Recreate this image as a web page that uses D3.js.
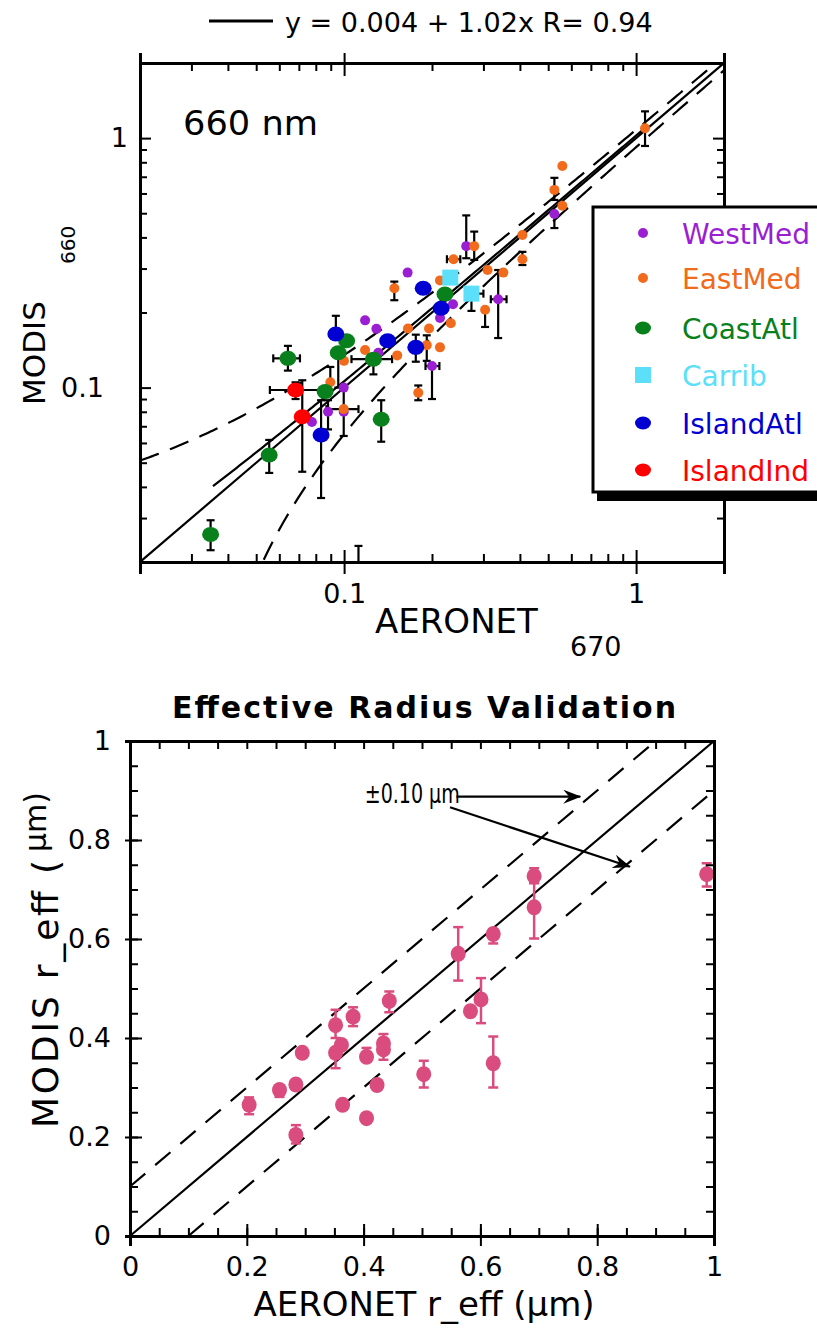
<!DOCTYPE html>
<html>
<head>
<meta charset="utf-8">
<script src="https://cdn.jsdelivr.net/npm/d3@7"></script>
<style>
  body { margin: 0; background: #fff; }
  svg { display: block; }
  text { font-family: "DejaVu Sans", sans-serif; fill: #000; }
</style>
</head>
<body>
<svg id="chart" width="817" height="1328"></svg>
<script>
// ── Top panel: AOD 660 nm, points as [x, y, yLo, yHi, xLo, xHi] ─────────────
const westMed = [
  [0.525, 0.496, 0.436, null], [0.262, 0.369, 0.33, 0.49], [0.165, 0.289],
  [0.337, 0.226, 0.158, 0.296, 0.318, 0.36], [0.236, 0.216], [0.213, 0.190],
  [0.118, 0.186], [0.129, 0.172], [0.131, 0.138], [0.200, 0.122, 0.090, null, 0.19, 0.212],
  [0.0997, 0.100], [0.0881, 0.080, 0.068, 0.089], [0.0997, 0.080], [0.0776, 0.0728]
];
const eastMed = [
  [1.073, 1.095, 0.93, 1.28], [0.559, 0.773], [0.525, 0.620, 0.565, 0.693], [0.559, 0.536],
  [0.408, 0.409], [0.408, 0.327, 0.31, 0.35], [0.351, 0.289], [0.310, 0.296],
  [0.279, 0.369, 0.325, 0.422], [0.237, 0.327, null, null, 0.225, 0.25],
  [0.1486, 0.250, 0.224, 0.266], [0.213, 0.269], [0.304, 0.205, 0.175, null],
  [0.232, 0.181], [0.1655, 0.1725], [0.1954, 0.1725], [0.1919, 0.148, 0.128, 0.162],
  [0.213, 0.145], [0.118, 0.1415], [0.152, 0.1346], [0.0999, 0.128],
  [0.0897, 0.105, null, 0.121], [0.1795, 0.0954, 0.089, 0.102],
  [0.0997, 0.082, 0.064, 0.1, 0.087, 0.112], [0.112, 0.016, null, 0.0232]
];
const coastAtl = [
  [0.2215, 0.237], [0.102, 0.154], [0.0955, 0.138, 0.1, null],
  [0.126, 0.130, 0.113, null, 0.106, 0.146], [0.0861, 0.0964],
  [0.0642, 0.131, 0.117, 0.147, 0.0572, 0.0706], [0.134, 0.0747, 0.0607, 0.089],
  [0.0554, 0.0537, 0.0455, 0.0617], [0.0349, 0.0258, 0.0223, 0.0294]
];
const carrib = [[0.231, 0.276], [0.273, 0.238, 0.203, null, null, 0.3]];
const islandAtl = [
  [0.1866, 0.250], [0.215, 0.208], [0.0937, 0.164, null, 0.194], [0.141, 0.154],
  [0.176, 0.145, 0.127, 0.163], [0.0834, 0.0646, 0.0361, 0.089]
];
const islandInd = [
  [0.0682, 0.0978, 0.09, 0.105, 0.0557, 0.0848], [0.0719, 0.0764, 0.046, 0.107]
];

const groups = [
  { name: 'WestMed',   color: '#9a1fd3', shape: 'dot',    pts: westMed },
  { name: 'EastMed',   color: '#f26a1b', shape: 'dot',    pts: eastMed },
  { name: 'CoastAtl',  color: '#08801c', shape: 'big',    pts: coastAtl },
  { name: 'Carrib',    color: '#5ce0fa', shape: 'square', pts: carrib },
  { name: 'IslandAtl', color: '#0000d2', shape: 'big',    pts: islandAtl },
  { name: 'IslandInd', color: '#ff0000', shape: 'big',    pts: islandInd }
];
const drawOrder = ['WestMed', 'EastMed', 'Carrib', 'CoastAtl', 'IslandAtl', 'IslandInd'];

const fitA = 0.004, fitB = 1.02, fitR = 0.94;   // regression
const envA = 0.03,  envB = 0.05;                // expected error ±(0.03 + 0.05τ)
const aodMajor = [0.1, 1];
const aodMinor = [0.03, 0.04, 0.05, 0.06, 0.07, 0.08, 0.09, 0.2, 0.3, 0.4, 0.5, 0.6, 0.7, 0.8, 0.9];

// ── Bottom panel: effective radius, [x, y, yLo, yHi] ───────────────────────
const reffPts = [
  [0.204, 0.265, 0.246, 0.28], [0.256, 0.295, 0.281, null], [0.284, 0.306], [0.295, 0.370],
  [0.284, 0.204, 0.187, 0.224], [0.352, 0.426, 0.40, 0.457], [0.362, 0.386],
  [0.352, 0.370, 0.339, null], [0.382, 0.443, 0.424, 0.462], [0.364, 0.265],
  [0.405, 0.362, null, 0.380], [0.405, 0.238], [0.434, 0.389, 0.356, 0.408], [0.434, 0.377],
  [0.423, 0.305], [0.444, 0.475, 0.452, 0.494], [0.503, 0.327, 0.300, 0.354],
  [0.562, 0.570, 0.516, 0.624], [0.583, 0.454], [0.601, 0.478, 0.430, 0.521],
  [0.622, 0.610, 0.591, 0.620], [0.622, 0.349, 0.300, 0.403],
  [0.692, 0.727, 0.713, 0.743], [0.692, 0.664, 0.601, 0.713], [0.9875, 0.731, 0.706, 0.753]
];
const reffBand = 0.10;
const reffMajor = [0, 0.2, 0.4, 0.6, 0.8, 1];
const reffMinor = d3.range(0, 1.001, 0.05).map(v => +v.toFixed(2));
const pink = '#d94c7d';

const svg = d3.select('#chart');

// ═════════════════════════ TOP PANEL ═════════════════════════
const x1 = d3.scaleLog().domain([0.02, 2]).range([140, 724]);
const y1 = d3.scaleLog().domain([0.02, 2]).range([562, 63]);

svg.append('clipPath').attr('id', 'clip1').append('rect')
  .attr('x', 140).attr('y', 63).attr('width', 584).attr('height', 499);

const plot1 = svg.append('g').attr('clip-path', 'url(#clip1)');
const logLine = d3.line().x(d => x1(d[0])).y(d => y1(d[1]));
const xsAll = d3.range(0, 201).map(i => 0.02 * Math.pow(100, i / 200));

// 1:1 line
plot1.append('path').attr('d', logLine([[0.02, 0.02], [2, 2]]))
  .attr('fill', 'none').attr('stroke', '#000').attr('stroke-width', 2.2);
// regression over the data range
const inRange = groups.flatMap(g => g.pts.filter(p => p[1] >= 0.02).map(p => p[0]));
const xMin = d3.min(inRange), xMax = d3.max(inRange);
plot1.append('path')
  .attr('d', logLine(xsAll.filter(v => v >= xMin && v <= xMax).map(v => [v, fitA + fitB * v])))
  .attr('fill', 'none').attr('stroke', '#000').attr('stroke-width', 2.2);
// expected error envelope
const upper = xsAll.map(v => [v, v + envA + envB * v]);
const lower = xsAll.map(v => [v, v - envA - envB * v]).filter(d => d[1] > 0.015);
[upper, lower].forEach(l => plot1.append('path').attr('d', logLine(l))
  .attr('fill', 'none').attr('stroke', '#000').attr('stroke-width', 2.2)
  .attr('stroke-dasharray', '20,12'));

// error bars
const eb = plot1.append('g').attr('stroke', '#000').attr('stroke-width', 2.2);
drawOrder.map(n => groups.find(g => g.name === n)).forEach(g => {
  g.pts.forEach(p => {
    const cx = x1(p[0]), cy = y1(p[1]);
    if (p[2] != null || p[3] != null) {
      const a = p[2] != null ? y1(p[2]) : cy, b = p[3] != null ? y1(p[3]) : cy;
      eb.append('line').attr('x1', cx).attr('x2', cx).attr('y1', a).attr('y2', b);
      if (p[2] != null) eb.append('line').attr('x1', cx - 4).attr('x2', cx + 4).attr('y1', a).attr('y2', a);
      if (p[3] != null) eb.append('line').attr('x1', cx - 4).attr('x2', cx + 4).attr('y1', b).attr('y2', b);
    }
    if (p[4] != null || p[5] != null) {
      const a = p[4] != null ? x1(p[4]) : cx, b = p[5] != null ? x1(p[5]) : cx;
      eb.append('line').attr('y1', cy).attr('y2', cy).attr('x1', a).attr('x2', b);
      if (p[4] != null) eb.append('line').attr('y1', cy - 4).attr('y2', cy + 4).attr('x1', a).attr('x2', a);
      if (p[5] != null) eb.append('line').attr('y1', cy - 4).attr('y2', cy + 4).attr('x1', b).attr('x2', b);
    }
  });
});

function symbol(sel, shape, color, cx, cy) {
  if (shape === 'dot') sel.append('circle').attr('cx', cx).attr('cy', cy).attr('r', 5).attr('fill', color);
  else if (shape === 'big') sel.append('ellipse').attr('cx', cx).attr('cy', cy).attr('rx', 8.5).attr('ry', 7.5).attr('fill', color);
  else sel.append('rect').attr('x', cx - 8).attr('y', cy - 8).attr('width', 16).attr('height', 16).attr('fill', color);
}
const pts = plot1.append('g');
drawOrder.map(n => groups.find(g => g.name === n)).forEach(g => {
  g.pts.forEach(p => symbol(pts, g.shape, g.color, x1(p[0]), y1(p[1])));
});

// axes (ticks inward)
const ax1 = svg.append('g');
ax1.append('g').attr('transform', 'translate(0,562)')
  .call(d3.axisBottom(x1).tickValues(aodMinor).tickSize(-8).tickFormat(''));
ax1.append('g').attr('transform', 'translate(0,63)')
  .call(d3.axisTop(x1).tickValues(aodMinor).tickSize(-8).tickFormat(''));
ax1.append('g').attr('transform', 'translate(140,0)')
  .call(d3.axisLeft(y1).tickValues(aodMinor).tickSize(-7).tickFormat(''));
ax1.append('g').attr('transform', 'translate(724,0)')
  .call(d3.axisRight(y1).tickValues(aodMinor).tickSize(-7).tickFormat(''));
// major ticks
ax1.append('g').attr('transform', 'translate(0,562)')
  .call(d3.axisBottom(x1).tickValues(aodMajor).tickSize(12).tickFormat(d => d).tickPadding(10))
  .call(g => g.selectAll('.tick line').attr('y1', -12));
ax1.append('g').attr('transform', 'translate(0,63)')
  .call(d3.axisTop(x1).tickValues(aodMajor).tickSize(10).tickFormat(''))
  .call(g => g.selectAll('.tick line').attr('y1', 13));
ax1.append('g').attr('transform', 'translate(140,0)')
  .call(d3.axisLeft(y1).tickValues(aodMajor).tickSize(-11).tickFormat(d => d).tickPadding(36))
  .call(g => g.selectAll('.tick text').attr('x', d => d === 1 ? -12 : -36));
ax1.append('g').attr('transform', 'translate(724,0)')
  .call(d3.axisRight(y1).tickValues(aodMajor).tickSize(-11).tickFormat(''));
ax1.selectAll('.domain').attr('stroke-width', 3);
ax1.selectAll('.tick line').attr('stroke-width', 2);
ax1.selectAll('.tick text').attr('font-size', 27).attr('font-family', '"DejaVu Sans", sans-serif');

// labels
svg.append('text').attr('x', 183).attr('y', 135).attr('font-size', 33)
  .attr('textLength', 135).attr('lengthAdjust', 'spacingAndGlyphs').text('660 nm');
svg.append('text').attr('x', 375).attr('y', 633).attr('font-size', 34).text('AERONET');
svg.append('text').attr('x', 570).attr('y', 656).attr('font-size', 27).text('670');
svg.append('text').attr('transform', 'translate(45,405) rotate(-90)').attr('font-size', 31).text('MODIS');
svg.append('text').attr('transform', 'translate(75,264) rotate(-90)').attr('font-size', 20).text('660');

// fit legend at the top
svg.append('line').attr('x1', 209).attr('x2', 273).attr('y1', 21).attr('y2', 21)
  .attr('stroke', '#000').attr('stroke-width', 3);
svg.append('text').attr('x', 285).attr('y', 32).attr('font-size', 27)
  .text(`y = ${fitA} + ${fitB}x R= ${fitR}`);

// group legend
const lg = svg.append('g');
lg.append('rect').attr('x', 597).attr('y', 490).attr('width', 240).attr('height', 11).attr('fill', '#000');
lg.append('rect').attr('x', 593).attr('y', 207).attr('width', 240).attr('height', 285)
  .attr('fill', '#fff').attr('stroke', '#000').attr('stroke-width', 3);
const rowY = [233, 278, 328, 375, 423, 470];
groups.forEach((g, i) => {
  const cy = rowY[i];
  if (g.shape === 'dot') lg.append('circle').attr('cx', 643).attr('cy', cy).attr('r', 5).attr('fill', g.color);
  else if (g.shape === 'big') lg.append('ellipse').attr('cx', 643).attr('cy', cy).attr('rx', 8).attr('ry', 6.5).attr('fill', g.color);
  else lg.append('rect').attr('x', 635).attr('y', cy - 8).attr('width', 16).attr('height', 16).attr('fill', g.color);
  lg.append('text').attr('x', 682).attr('y', cy + 11).attr('font-size', 28)
    .style('fill', g.color).text(g.name);
});

// ═════════════════════════ BOTTOM PANEL ═════════════════════════
const x2 = d3.scaleLinear().domain([0, 1]).range([130, 714]);
const y2 = d3.scaleLinear().domain([0, 1]).range([1236, 741]);

svg.append('text').attr('x', 424).attr('y', 718).attr('text-anchor', 'middle')
  .attr('font-size', 30).attr('font-weight', 'bold')
  .attr('textLength', 504).attr('lengthAdjust', 'spacing').text('Effective Radius Validation');

const bot = svg.append('g');
const linLine = d3.line().x(d => x2(d[0])).y(d => y2(d[1]));
bot.append('path').attr('d', linLine([[0, 0], [1, 1]])).attr('stroke', '#000').attr('stroke-width', 2.2);
bot.append('path').attr('d', linLine([[0, reffBand], [1 - reffBand, 1]]))
  .attr('stroke', '#000').attr('stroke-width', 2.2).attr('stroke-dasharray', '20,13');
bot.append('path').attr('d', linLine([[reffBand, 0], [1, 1 - reffBand]]))
  .attr('stroke', '#000').attr('stroke-width', 2.2).attr('stroke-dasharray', '20,13');

const eb2 = bot.append('g').attr('stroke', pink).attr('stroke-width', 2.5);
reffPts.forEach(p => {
  const cx = x2(p[0]), cy = y2(p[1]);
  const a = p[2] != null ? y2(p[2]) : cy, b = p[3] != null ? y2(p[3]) : cy;
  if (p[2] != null || p[3] != null)
    eb2.append('line').attr('x1', cx).attr('x2', cx).attr('y1', a).attr('y2', b);
  if (p[2] != null) eb2.append('line').attr('x1', cx - 5).attr('x2', cx + 5).attr('y1', a).attr('y2', a);
  if (p[3] != null) eb2.append('line').attr('x1', cx - 5).attr('x2', cx + 5).attr('y1', b).attr('y2', b);
});
bot.append('g').selectAll('ellipse').data(reffPts).join('ellipse')
  .attr('cx', d => x2(d[0])).attr('cy', d => y2(d[1])).attr('rx', 7.5).attr('ry', 8)
  .attr('fill', pink);

// annotation with arrows
svg.append('defs').append('marker').attr('id', 'arr').attr('viewBox', '0 0 18 14')
  .attr('refX', 17).attr('refY', 7).attr('markerWidth', 18).attr('markerHeight', 14)
  .attr('markerUnits', 'userSpaceOnUse').attr('orient', 'auto')
  .append('path').attr('d', 'M0,0 L18,7 L0,14 L6,7 Z').attr('fill', '#000');
svg.append('text').attr('x', x2(0.402)).attr('y', y2(0.875)).attr('font-size', 27)
  .attr('textLength', 95).attr('lengthAdjust', 'spacingAndGlyphs').text('±0.10 μm');
svg.append('line').attr('x1', x2(0.559)).attr('y1', y2(0.8875)).attr('x2', x2(0.771)).attr('y2', y2(0.8875))
  .attr('stroke', '#000').attr('stroke-width', 2.2).attr('marker-end', 'url(#arr)');
svg.append('line').attr('x1', x2(0.548)).attr('y1', y2(0.866)).attr('x2', x2(0.856)).attr('y2', y2(0.746))
  .attr('stroke', '#000').attr('stroke-width', 2.2).attr('marker-end', 'url(#arr)');

// axes
const ax2 = svg.append('g');
ax2.append('g').attr('transform', 'translate(0,1236)')
  .call(d3.axisBottom(x2).tickValues(reffMinor).tickSize(-8).tickFormat(''));
ax2.append('g').attr('transform', 'translate(0,741)')
  .call(d3.axisTop(x2).tickValues(reffMinor).tickSize(-8).tickFormat(''));
ax2.append('g').attr('transform', 'translate(130,0)')
  .call(d3.axisLeft(y2).tickValues(reffMinor).tickSize(-8).tickFormat(''));
ax2.append('g').attr('transform', 'translate(714,0)')
  .call(d3.axisRight(y2).tickValues(reffMinor).tickSize(-8).tickFormat(''));
ax2.append('g').attr('transform', 'translate(0,1236)')
  .call(d3.axisBottom(x2).tickValues(reffMajor).tickSize(10).tickPadding(11).tickFormat(d => d))
  .call(g => g.selectAll('.tick line').attr('y1', -12));
ax2.append('g').attr('transform', 'translate(130,0)')
  .call(d3.axisLeft(y2).tickValues(reffMajor).tickSize(5).tickPadding(14).tickFormat(d => d))
  .call(g => g.selectAll('.tick line').attr('x1', 12));
ax2.selectAll('.domain').attr('stroke-width', 3);
ax2.selectAll('.tick line').attr('stroke-width', 2);
ax2.selectAll('.tick text').attr('font-size', 27).attr('font-family', '"DejaVu Sans", sans-serif');

svg.append('text').attr('x', 424).attr('y', 1316).attr('text-anchor', 'middle')
  .attr('font-size', 34).text('AERONET r_eff (μm)');
svg.append('text').attr('transform', 'translate(58,1128) rotate(-90)').attr('font-size', 36)
  .attr('textLength', 268).attr('lengthAdjust', 'spacing').text('MODIS r_eff (');
svg.append('text').attr('transform', 'translate(46,852) rotate(-90)').attr('font-size', 30)
  .text('μm)');
</script>
</body>
</html>
